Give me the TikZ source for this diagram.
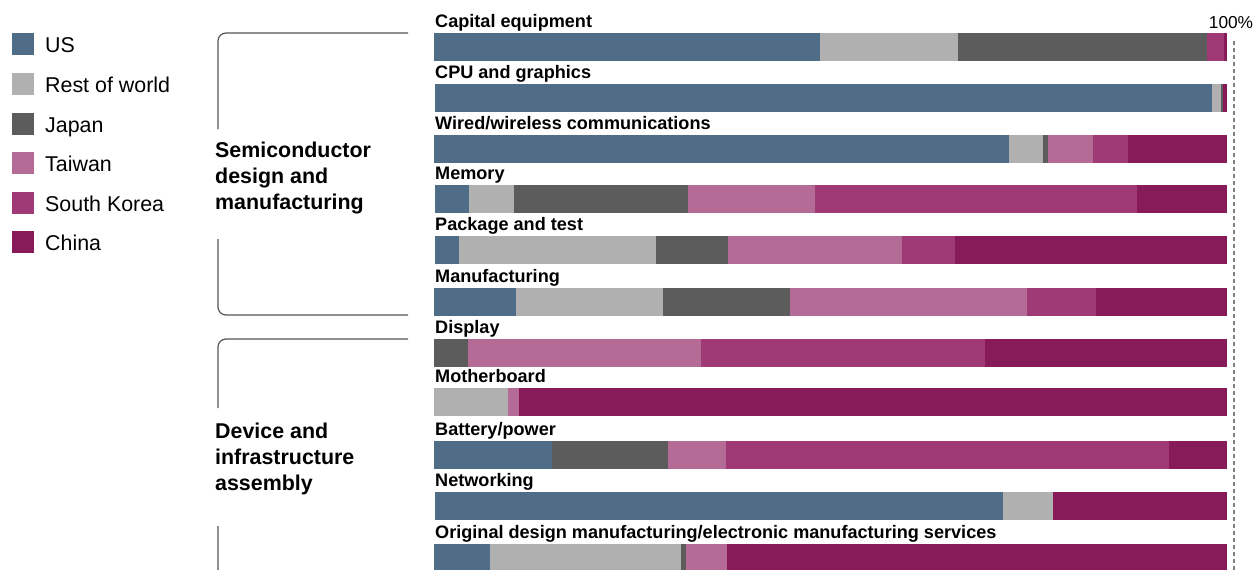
\documentclass[tikz,border=0pt]{standalone}
\usepackage{fontspec}
\setmainfont{Liberation Sans}
\definecolor{cUS}{HTML}{4F6D86}
\definecolor{cRW}{HTML}{B0B0B0}
\definecolor{cJP}{HTML}{5C5C5C}
\definecolor{cTW}{HTML}{B46C96}
\definecolor{cSK}{HTML}{9F3A77}
\definecolor{cCN}{HTML}{871B5A}
\definecolor{brk}{HTML}{555555}
\tikzset{
  barlabel/.style={anchor=base west, inner sep=0pt, font=\fontsize{18.1}{20}\selectfont\bfseries},
  legtext/.style={anchor=base west, inner sep=0pt, font=\fontsize{21.4}{24}\selectfont},
  grplabel/.style={anchor=west, inner sep=0pt, align=left, font=\fontsize{21.4}{26}\selectfont\bfseries},
  bracket/.style={draw=brk, line width=1.2pt, rounded corners=8pt},
  refline/.style={draw=gray, line width=1.3pt, dash pattern=on 4pt off 3pt},
}
\newcommand\chartbar[4]{%
  \node[barlabel] (#1) at (435,#2-5.3) {#3};
  \foreach \a/\b/\c in {#4} {\fill[\c] (\a,#2) rectangle (\b,#2+28);}
}
\begin{document}
\begin{tikzpicture}[x=1pt,y=-1pt]
\useasboundingbox (0,0) rectangle (1256,570);
\clip (0,0) rectangle (1256,570);
\fill[white] (0,0) rectangle (1256,570);
% legend
\foreach \t/\c/\n [count=\i] in {33/cUS/US, 73/cRW/Rest of world, 113/cJP/Japan, 152/cTW/Taiwan, 192/cSK/South Korea, 231/cCN/China} {
  \fill[\c] (12,\t) rectangle (34,\t+22);
  \node[legtext] (leg\i) at (45,\t+19) {\n};
}
% brackets
\draw[bracket] (218,129) -- (218,33) -- (408,33);
\draw[bracket] (218,239) -- (218,315) -- (408,315);
\draw[bracket] (218,408) -- (218,339) -- (408,339);
\draw[bracket] (218,526) -- (218,577) -- (408,577);
\node[grplabel] (g1) at (215,178.5) {Semiconductor\\design and\\manufacturing};
\node[grplabel] (g2) at (215,459) {Device and\\infrastructure\\assembly};
% bars
\chartbar{b1}{33}{Capital equipment}{434/820/cUS, 820/958/cRW, 958/1207/cJP, 1207/1224/cSK, 1224/1227/cCN}
\chartbar{b2}{84}{CPU and graphics}{435/1212/cUS, 1212/1221/cRW, 1221/1223/cJP, 1223/1227/cCN}
\chartbar{b3}{135}{Wired/wireless communications}{434/1009/cUS, 1009/1043/cRW, 1043/1048/cJP, 1048/1093/cTW, 1093/1128/cSK, 1128/1227/cCN}
\chartbar{b4}{185}{Memory}{435/469/cUS, 469/514/cRW, 514/688/cJP, 688/815/cTW, 815/1137/cSK, 1137/1227/cCN}
\chartbar{b5}{236}{Package and test}{435/459/cUS, 459/656/cRW, 656/728/cJP, 728/902/cTW, 902/955/cSK, 955/1227/cCN}
\chartbar{b6}{288}{Manufacturing}{434/516/cUS, 516/663/cRW, 663/790/cJP, 790/1027/cTW, 1027/1096/cSK, 1096/1227/cCN}
\chartbar{b7}{339}{Display}{434/468/cJP, 468/701/cTW, 701/985/cSK, 985/1227/cCN}
\chartbar{b8}{388}{Motherboard}{434/508/cRW, 508/519/cTW, 519/1227/cCN}
\chartbar{b9}{441}{Battery/power}{434/552/cUS, 552/668/cJP, 668/726/cTW, 726/1169/cSK, 1169/1227/cCN}
\chartbar{b10}{492}{Networking}{435/1003/cUS, 1003/1053/cRW, 1053/1227/cCN}
\chartbar{b11}{544}{Original design manufacturing/electronic manufacturing services}{434/490/cUS, 490/681/cRW, 681/686/cJP, 686/727/cTW, 727/1227/cCN}
% 100% line
\coordinate (rtop) at (1234,41);
\coordinate (rbot) at (1234,572);
\draw[refline] (rtop) -- (rbot);
\node[anchor=base, inner sep=0pt, font=\fontsize{17.3}{20}\selectfont] (pct) at (1231,28) {100\%};
\end{tikzpicture}
\end{document}
